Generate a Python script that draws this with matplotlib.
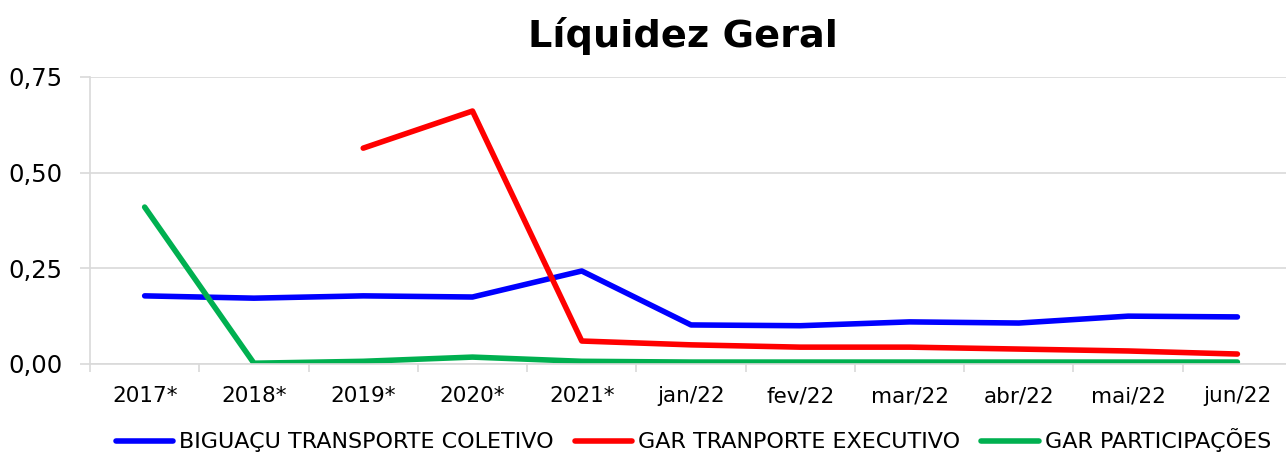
import matplotlib
matplotlib.use("Agg")
import matplotlib.pyplot as plt
import numpy as np

categories = ["2017*", "2018*", "2019*", "2020*", "2021*", "jan/22", "fev/22",
              "mar/22", "abr/22", "mai/22", "jun/22"]
biguacu = [0.178, 0.172, 0.178, 0.175, 0.243, 0.102, 0.100, 0.110, 0.107, 0.125, 0.123]
gar_exec = [np.nan, np.nan, 0.564, 0.661, 0.060, 0.050, 0.044, 0.044, 0.039, 0.034, 0.026]
gar_part = [0.410, 0.002, 0.007, 0.018, 0.007, 0.005, 0.005, 0.005, 0.005, 0.005, 0.005]
yticks = [0.0, 0.25, 0.50, 0.75]

plt.rcParams['font.family'] = ['DejaVu Sans']

fig = plt.figure(figsize=(12.86, 4.53), dpi=100)
# the original chart runs past the right edge of the picture
ax = fig.add_axes([0.07, 0.1965, 0.9347, 0.6336])

x = np.arange(len(categories))
ax.plot(x, biguacu, color="#0000FF", lw=4, solid_capstyle="round", label="BIGUAÇU TRANSPORTE COLETIVO")
ax.plot(x, gar_exec, color="#FF0000", lw=4, solid_capstyle="round", label="GAR TRANPORTE EXECUTIVO")
ax.plot(x, gar_part, color="#00B050", lw=4, solid_capstyle="round", label="GAR PARTICIPAÇÕES")

ax.set_xlim(-0.5, len(categories) - 0.5)
ax.set_ylim(0, 0.75)
ax.set_yticks(yticks)
ax.set_yticklabels([f"{v:.2f}".replace(".", ",") for v in yticks], fontsize=17.5)
ax.set_xticks(x)
ax.set_xticklabels(categories, fontsize=15.5)
ax.set_xticks(np.arange(len(categories) + 1) - 0.5, minor=True)
ax.tick_params(axis="x", which="major", length=0, pad=16)
ax.tick_params(axis="x", which="minor", length=6, color="#D9D9D9", width=1.2)
ax.tick_params(axis="y", length=7, color="#D9D9D9", width=1.2, pad=13)
ax.grid(axis="y", color="#D9D9D9", lw=1.2)
ax.set_axisbelow(True)
for s in ["top", "right"]:
    ax.spines[s].set_visible(False)
ax.spines["left"].set_color("#D9D9D9")
ax.spines["bottom"].set_color("#D9D9D9")
ax.spines["left"].set_linewidth(1.2)
ax.spines["bottom"].set_linewidth(1.2)

fig.text(0.531, 0.92, "Líquidez Geral", fontsize=27.5, fontweight="bold", ha="center", va="center")

leg = fig.legend(loc="center", bbox_to_anchor=(0.539, 0.028), ncol=3, frameon=False,
                 fontsize=16, handlelength=2.6, columnspacing=0.95, handletextpad=0.25)

fig.savefig("out.png", dpi=100)
